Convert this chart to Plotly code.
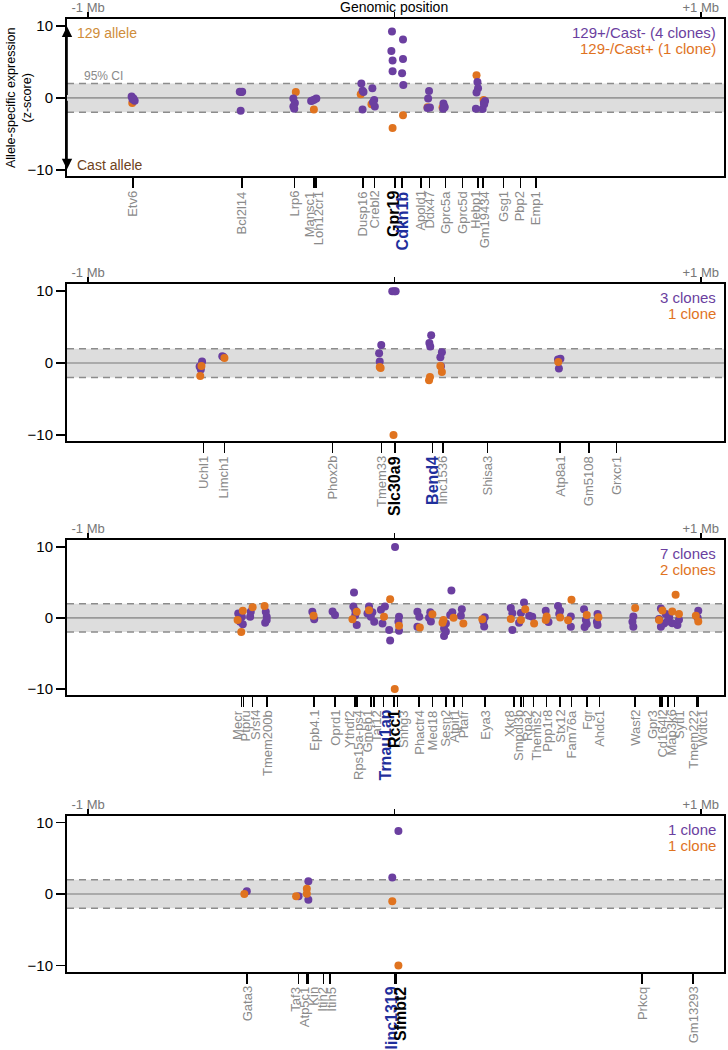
import plotly.graph_objects as go

# ---------------- data ----------------
# Panel 1
p1_genes = ["Etv6", "Bcl2l14", "Lrp6", "Mansc1", "Loh12cr1", "Dusp16", "Crebl2", "Gpr19", "Cdkn1b",
            "Apold1", "Ddx47", "Gprc5a", "Gprc5d", "Hebp1", "Gm19434", "Gsg1", "Pbp2", "Emp1"]
p1_gene_mb = [-0.854, -0.498, -0.326, -0.263, -0.257, -0.103, -0.065, 0.002, 0.024,
              0.086, 0.114, 0.167, 0.222, 0.272, 0.289, 0.356, 0.411, 0.463]
p1_pur_x = [-0.858, -0.852, -0.848, -0.855, -0.505, -0.497, -0.500, -0.502, -0.330, -0.325, -0.330, -0.327,
            -0.272, -0.262, -0.255, -0.268, -0.108, -0.104, -0.101, -0.104, -0.072, -0.066, -0.064, -0.070,
            -0.008, -0.010, -0.006, -0.006, 0.028, 0.028, 0.025, 0.029, 0.113, 0.110, 0.108, 0.116,
            0.160, 0.163, 0.159, 0.164, 0.271, 0.273, 0.268, 0.266, 0.292, 0.288, 0.296, 0.293]
p1_pur_z = [0.2, -0.1, -0.4, -0.2, 0.85, 0.85, 0.8, -1.8, -0.1, -0.7, -1.2, -1.5,
            -0.45, -0.25, -0.1, -0.35, 2.0, 1.0, 0.8, -1.6, 1.35, -0.3, -1.2, -0.6,
            9.2, 6.5, 5.2, 3.7, 8.1, 5.4, 3.4, 1.8, 0.95, -0.1, -1.4, -1.35,
            -0.8, -1.2, -1.5, -1.3, 2.2, 1.35, 0.75, -1.5, -0.7, -1.55, -0.45, -0.9]
p1_ora_x = [-0.856, -0.500, -0.322, -0.263, -0.110, -0.075, -0.006, 0.028, 0.108, 0.157, 0.268, 0.291]
p1_ora_z = [-0.7, 0.8, 0.8, -1.6, 0.5, -0.9, -4.2, -2.4, -1.3, -1.35, 3.15, -0.3]
p1_legend = ["129+/Cast- (4 clones)", "129-/Cast+ (1 clone)"]

# Panel 2
p2_genes = ["Uchl1", "Limch1", "Phox2b", "Tmem33", "Slc30a9", "Bend4", "linc1536", "Shisa3",
            "Atp8a1", "Gm5108", "Grxcr1"]
p2_gene_mb = [-0.623, -0.555, -0.202, -0.042, 0.002, 0.124, 0.159, 0.304, 0.541, 0.636, 0.725]
p2_pur_x = [-0.628, -0.636, -0.632, -0.562, -0.558, -0.043, -0.050, -0.048, -0.007, 0.000, 0.004,
            0.120, 0.114, 0.117, 0.155, 0.150, 0.152, 0.542, 0.537, 0.534]
p2_pur_z = [0.2, -0.5, -0.9, 0.95, 0.85, 2.5, 1.35, 0.2, 10.0, 10.0, 10.0,
            3.85, 2.8, 2.3, 1.5, 0.8, -0.45, 0.6, -0.75, 0.5]
p2_ora_x = [-0.630, -0.634, -0.555, -0.048, -0.045, -0.003, 0.116, 0.113, 0.155, 0.150, 0.535]
p2_ora_z = [-0.4, -1.8, 0.7, -0.55, -0.7, -10.0, -1.95, -2.4, -1.25, -0.4, 0.15]
p2_legend = ["3 clones", "1 clone"]

# Panel 3
p3_genes = ["Mecr", "Ptpru", "Srsf4", "Tmem200b", "Epb4.1", "Oprd1", "Ythdf2", "Rps15a-ps4", "Gmeb1",
            "Taf12", "Trnau1ap", "Rcc1", "Snhg3", "Phactr4", "Med18", "Sesn2", "Atpif1", "Ptafr",
            "Eya3", "Xkr8", "Smpdl3b", "Rpa2", "Themis2", "Ppp1r8", "Stx12", "Fam76a", "Fgr",
            "Ahdc1", "Wasf2", "Gpr3", "Cd164l2", "Map3k6", "Sytl1", "Tmem222", "Wdtc1"]
p3_gene_mb = [-0.499, -0.493, -0.463, -0.416, -0.262, -0.195, -0.128, -0.122, -0.077,
              -0.067, -0.036, -0.001, 0.010, 0.081, 0.124, 0.168, 0.195, 0.222,
              0.295, 0.391, 0.413, 0.421, 0.454, 0.497, 0.541, 0.578, 0.628,
              0.669, 0.785, 0.867, 0.873, 0.893, 0.915, 0.988, 0.992]
p3_pur_x = [-0.510, -0.498, -0.504, -0.495, -0.469, -0.471, -0.420, -0.417, -0.422, -0.417,
            -0.268, -0.262, -0.202, -0.194, -0.132, -0.134, -0.128, -0.123, -0.128,
            -0.083, -0.088, -0.072, -0.066, -0.077, -0.031, -0.044, -0.039, -0.017, -0.014, 0.002,
            0.015, 0.015, 0.013, 0.075, 0.081, 0.075, 0.113, 0.119, 0.117,
            0.168, 0.162, 0.162, 0.168, 0.186, 0.189, 0.182, 0.220, 0.217, 0.295, 0.290, 0.293,
            0.380, 0.423, 0.385, 0.413, 0.407, 0.385, 0.450, 0.440, 0.494, 0.503,
            0.534, 0.541, 0.538, 0.576, 0.576, 0.619, 0.625, 0.621, 0.628, 0.663, 0.661, 0.663,
            0.780, 0.777, 0.780, 0.870, 0.886, 0.897, 0.864, 0.880, 0.924, 0.907, 0.870, 0.929, 0.891,
            0.992, 0.990]
p3_pur_z = [0.6, 0.15, -0.55, -0.9, 0.85, 0.15, 0.85, 0.15, -0.7, -0.3,
            0.85, -0.2, 0.9, 0.4, 3.55, 1.6, 0.35, -1.0, 1.05,
            1.6, 0.6, 0.8, -0.55, 0.15, 1.6, 1.15, -0.8, -1.7, -3.2, 9.95,
            0.15, -1.8, -0.55, 0.85, 0.15, -1.25, 0.0, -0.5, 0.8,
            -0.8, -1.5, -2.55, -1.95, 3.85, 0.8, 0.4, 1.2, 0.3, 0.1, -0.5, -1.2,
            1.4, 2.15, 0.65, 0.7, -0.7, -1.7, 0.15, 0.3, 1.0, -0.6,
            1.65, 1.0, 0.55, 0.2, -1.25, 1.2, -0.3, -1.3, -0.85, 0.55, -0.55, -1.0,
            0.2, -0.55, -1.25, 1.3, 0.55, 0.1, -0.15, -0.8, -1.0, -0.75, -1.25, -0.25, -0.5,
            1.0, 0.0]
p3_ora_x = [-0.495, -0.512, -0.500, -0.463, -0.424, -0.264, -0.123, -0.137, -0.083, -0.014, -0.034,
            0.015, 0.001, 0.083, 0.124, 0.157, 0.160, 0.193, 0.225, 0.287,
            0.427, 0.380, 0.413, 0.456, 0.497, 0.494, 0.541, 0.578, 0.567, 0.628, 0.666,
            0.786, 0.918, 0.875, 0.907, 0.929, 0.864, 0.984, 0.992]
p3_ora_z = [1.0, -0.3, -2.0, 1.5, 1.65, 0.3, 0.85, -0.2, 1.07, 2.6, 0.15,
            -1.1, -10.0, -1.35, 0.5, -0.7, -0.3, 0.0, -0.8, -0.2,
            1.2, -0.15, -0.3, -0.8, 0.2, -0.3, 0.05, 2.55, -0.35, 0.4, 0.1,
            1.4, 3.25, 1.05, 0.9, 0.55, -0.3, 0.3, -0.5]
p3_legend = ["7 clones", "2 clones"]

# Panel 4
p4_genes = ["Gata3", "Taf3", "Atp5c1", "Kin", "Itih2", "Itih5", "linc1319", "Sfmbt2", "Prkcq", "Gm13293"]
p4_gene_mb = [-0.481, -0.313, -0.286, -0.281, -0.232, -0.210, 0.002, 0.007, 0.808, 0.975]
p4_pur_x = [-0.482, -0.313, -0.281, -0.281, 0.013, -0.007]
p4_pur_z = [0.4, -0.3, 1.8, -0.8, 8.8, 2.3]
p4_ora_x = [-0.490, -0.321, -0.286, -0.286, -0.007, 0.013]
p4_ora_z = [0.0, -0.3, 0.75, 0.05, -1.0, -10.0]
p4_legend = ["1 clone", "1 clone"]

top_tick_mb = [-1, 0, 1]
top_tick_text = ["-1 Mb", "", "+1 Mb"]
y_ticks = [-10, 0, 10]
y_tick_text = ["\u221210", "0", "10"]
ci_bound = 2.0

highlight = {"Gpr19": "black", "Cdkn1b": "blue", "Slc30a9": "black", "Bend4": "blue",
             "Trnau1ap": "blue", "Rcc1": "black", "linc1319": "blue", "Sfmbt2": "black"}

panels = [
    dict(genes=p1_genes, gene_mb=p1_gene_mb, px=p1_pur_x, pz=p1_pur_z, ox=p1_ora_x, oz=p1_ora_z, legend=p1_legend),
    dict(genes=p2_genes, gene_mb=p2_gene_mb, px=p2_pur_x, pz=p2_pur_z, ox=p2_ora_x, oz=p2_ora_z, legend=p2_legend),
    dict(genes=p3_genes, gene_mb=p3_gene_mb, px=p3_pur_x, pz=p3_pur_z, ox=p3_ora_x, oz=p3_ora_z, legend=p3_legend),
    dict(genes=p4_genes, gene_mb=p4_gene_mb, px=p4_pur_x, pz=p4_pur_z, ox=p4_ora_x, oz=p4_ora_z, legend=p4_legend),
]

# ---------------- style ----------------
W, H = 728, 1050
FONT = "Liberation Sans, Arial, Helvetica, sans-serif"
PURPLE = "#6b3fa0"
ORANGE = "#e0731f"
BLUE = "#1f2f9c"
GRAY_LABEL = "#8a8a8a"
X_LEFT_PX, X_RIGHT_PX = 67, 724
PANEL_PX = [(19, 176), (284.3, 441), (540, 695), (815.7, 971.7)]
XR = [-1.069, 1.076]
YR = [-10.85, 10.95]
PX_PER_MB = (X_RIGHT_PX - X_LEFT_PX) / (XR[1] - XR[0])
LABEL_GAP = 9.0 / PX_PER_MB
XDOM = [X_LEFT_PX / W, X_RIGHT_PX / W]


def spread(pos, gap):
    order = sorted(range(len(pos)), key=lambda i: pos[i])
    clusters = [[i] for i in order]

    def center(c):
        return sum(pos[i] for i in c) / len(c)

    changed = True
    while changed:
        changed = False
        new = []
        for c in clusters:
            if new:
                p = new[-1]
                p_end = center(p) + (len(p) - 1) * gap / 2
                c_start = center(c) - (len(c) - 1) * gap / 2
                if c_start - p_end < gap - 1e-9:
                    new[-1] = p + c
                    changed = True
                    continue
            new.append(c)
        clusters = new
    out = [0.0] * len(pos)
    for c in clusters:
        m = center(c)
        s = m - (len(c) - 1) * gap / 2
        for k, i in enumerate(c):
            out[i] = s + k * gap
    return out


def axname(prefix, n):
    return prefix if n == 1 else f"{prefix}{n}"


fig = go.Figure()
layout = dict(template="none", width=W, height=H, margin=dict(l=0, r=0, t=0, b=0, pad=0),
              autosize=False, paper_bgcolor="white", plot_bgcolor="white", showlegend=False,
              font=dict(family=FONT))
shapes = []
annotations = []

for k, P in enumerate(panels, start=1):
    xb, xt = 2 * k - 1, 2 * k
    xb_ref, xt_ref, y_ref = axname("x", xb), axname("x", xt), axname("y", k)
    top_px, bot_px = PANEL_PX[k - 1]
    ydom = [1 - bot_px / H, 1 - top_px / H]
    ph = bot_px - top_px

    layout[axname("xaxis", xb)] = dict(
        domain=XDOM, range=XR, anchor=y_ref, tickvals=P["gene_mb"], ticks="outside", ticklen=10,
        tickwidth=1.6, tickcolor="black", showticklabels=False, showline=True, linecolor="black",
        linewidth=2, mirror=True, showgrid=False, zeroline=False, automargin=False)
    layout[axname("xaxis", xt)] = dict(
        range=XR, anchor=y_ref, overlaying=xb_ref, side="top", tickvals=top_tick_mb,
        ticktext=top_tick_text, ticks="outside", ticklen=6, tickwidth=1.6, tickcolor="black",
        tickfont=dict(size=13, color="#777777"), ticklabelstandoff=-5, showline=False,
        showgrid=False, zeroline=False, automargin=False)
    layout[axname("yaxis", k)] = dict(
        domain=ydom, range=YR, anchor=xb_ref, tickvals=y_ticks, ticktext=y_tick_text,
        ticks="outside", ticklen=9, tickwidth=1.6, tickcolor="black",
        tickfont=dict(size=15, color="black"), showline=True, linecolor="black", linewidth=2,
        mirror=True, showgrid=False, zeroline=False, automargin=False)

    # CI band and lines
    shapes.append(dict(type="rect", xref=f"{xb_ref} domain", yref=y_ref, x0=0, x1=1,
                       y0=-ci_bound, y1=ci_bound, fillcolor="#dddddd", line=dict(width=0), layer="below"))
    for yv in (-ci_bound, ci_bound):
        shapes.append(dict(type="line", xref=f"{xb_ref} domain", yref=y_ref, x0=0, x1=1, y0=yv, y1=yv,
                           line=dict(color="#8c8c8c", width=1.5, dash="7px,5px"), layer="below"))
    shapes.append(dict(type="line", xref=f"{xb_ref} domain", yref=y_ref, x0=0, x1=1, y0=0, y1=0,
                       line=dict(color="#999999", width=1.6), layer="below"))

    # points
    groups = [(P["ox"], P["oz"], ORANGE), (P["px"], P["pz"], PURPLE)] if k == 1 else \
             [(P["px"], P["pz"], PURPLE), (P["ox"], P["oz"], ORANGE)]
    for gx, gz, col in groups:
        fig.add_trace(go.Scatter(x=gx, y=gz, xaxis=xb_ref, yaxis=y_ref, mode="markers",
                                 marker=dict(color=col, size=8, line=dict(width=0)),
                                 hoverinfo="skip"))
    # dummy trace for top axis
    fig.add_trace(go.Scatter(x=[0], y=[0], xaxis=xt_ref, yaxis=y_ref, mode="markers",
                             marker=dict(size=1, opacity=0), hoverinfo="skip"))

    # gene labels
    lab_x = spread(P["gene_mb"], LABEL_GAP)
    for g, lx in zip(P["genes"], lab_x):
        if g in highlight:
            col = BLUE if highlight[g] == "blue" else "black"
            txt, fs = f"<b>{g}</b>", 16
        else:
            col, txt, fs = GRAY_LABEL, g, 13
        annotations.append(dict(xref=xb_ref, yref=f"{y_ref} domain", x=lx, y=-13.0 / ph,
                                xanchor="center", yanchor="top", textangle=-90, showarrow=False,
                                text=txt, font=dict(size=fs, color=col, family=FONT)))

    # clone legend
    for txt, col, yy in zip(P["legend"], (PURPLE, ORANGE), (0.913, 0.811)):
        annotations.append(dict(xref=f"{xb_ref} domain", yref=f"{y_ref} domain", x=0.991, y=yy,
                                xanchor="right", yanchor="middle", showarrow=False, text=txt,
                                font=dict(size=15, color=col, family=FONT)))

# Panel-1 extras
annotations += [
    dict(xref="x", yref="y domain", x=0, y=1, yshift=12, xanchor="center", yanchor="middle",
         showarrow=False, text="Genomic position", font=dict(size=14, color="black")),
    dict(xref="x domain", yref="y", x=0.012, y=8.95, xanchor="left", yanchor="middle",
         showarrow=False, text="129 allele", font=dict(size=14, color="#cf8d3a")),
    dict(xref="x domain", yref="y", x=0.012, y=-9.35, xanchor="left", yanchor="middle",
         showarrow=False, text="Cast allele", font=dict(size=14, color="#6e4220")),
    dict(xref="x domain", yref="y", x=0.023, y=3.0, xanchor="left", yanchor="middle",
         showarrow=False, text="95% CI", font=dict(size=12, color="#8a8a8a")),
    dict(xref="x domain", yref="y", x=0, y=9.9, ax=0, ay=70, axref="pixel", ayref="pixel",
         showarrow=True, arrowhead=2, arrowsize=1.3, arrowwidth=1.6, arrowcolor="black", text=""),
    dict(xref="x domain", yref="y", x=0, y=-9.9, ax=0, ay=-70, axref="pixel", ayref="pixel",
         showarrow=True, arrowhead=2, arrowsize=1.3, arrowwidth=1.6, arrowcolor="black", text=""),
    dict(xref="paper", yref="paper", x=19 / W, y=1 - 98 / H, xanchor="center",
         yanchor="middle", textangle=-90, showarrow=False,
         text="Allele-specific expression<br>(z-score)", font=dict(size=12.5, color="black")),
]

layout["shapes"] = shapes
layout["annotations"] = annotations
fig.update_layout(**layout)
fig.write_html("out.html", config={"displayModeBar": False, "staticPlot": True},
               post_script="document.body.style.margin='0px';document.body.style.overflow='hidden';")
